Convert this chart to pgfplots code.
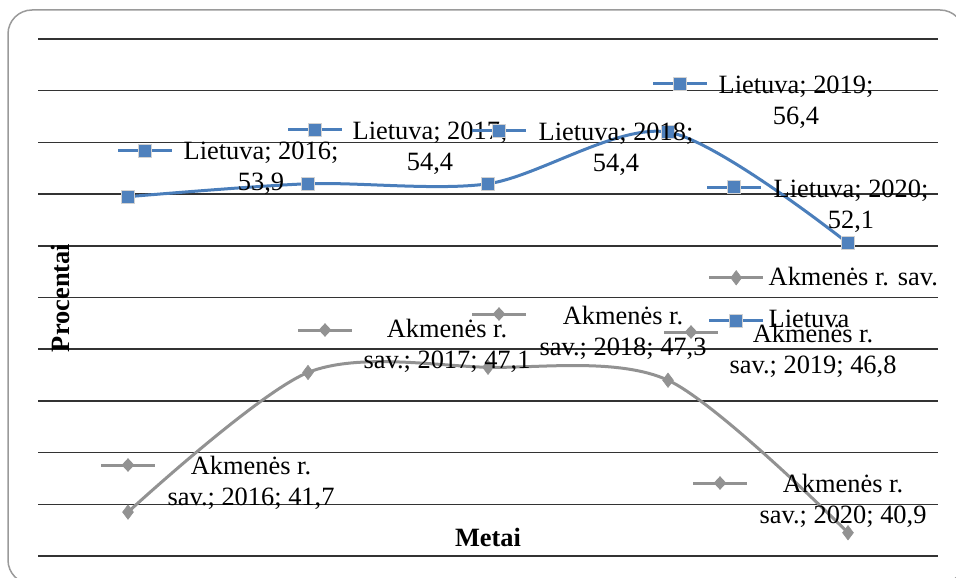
\documentclass[border=0pt]{standalone}
\usepackage{fontspec}
\setmainfont{Liberation Serif}
\usepackage{pgfplots}
\pgfplotsset{compat=1.18}
\usetikzlibrary{shapes.geometric}
\definecolor{lcol}{HTML}{4A7EBB}
\definecolor{lmark}{HTML}{4F81BD}
\definecolor{acol}{HTML}{929292}
\definecolor{frame}{HTML}{9A9A9A}
% small series keys used inside the data labels
\newsavebox\keyL
\newsavebox\keyA
\sbox\keyL{\tikz{\draw[lcol, line width=1.5pt] (0,0) -- (27pt,0);
  \node[draw=gray!35, fill=lmark, line width=0.5pt, minimum size=6.5pt, inner sep=0] at (13.5pt,0) {};}}
\sbox\keyA{\tikz{\draw[acol, line width=1.5pt] (0,0) -- (27pt,0);
  \node[fill=acol, diamond, minimum width=6.5pt, minimum height=7pt, inner sep=0] at (13.5pt,0) {};}}

\begin{document}
\begin{tikzpicture}[x=0.5pt, y=-0.5pt, font=\fontsize{13.2}{15.5}\selectfont]
\useasboundingbox (0,0) rectangle (956,577);
\draw[frame, line width=0.75pt, rounded corners=12pt] (8,10) rectangle (964,584);

\begin{axis}[
  at={(19pt,-278pt)}, anchor=south west,
  scale only axis, width=450pt, height=258.5pt,
  xmin=2015.5, xmax=2020.5, ymin=40, ymax=60,
  xtick=\empty, ytick={40,42,...,60}, yticklabels={},
  major tick length=0pt,
  axis line style={draw=none},
  ymajorgrids, grid style={black!80, line width=0.75pt},
  clip=false,
  reverse legend,
  legend cell align=left,
  legend style={at={(0.737,0.575)}, anchor=north west, draw=none, fill=none,
    font=\fontsize{13.2}{15.5}\selectfont, row sep=7pt},
  legend image code/.code={\draw[mark repeat=2, mark phase=2, #1]
    plot coordinates {(0pt,0pt) (13.5pt,0pt) (27pt,0pt)};},
]
\addplot[lcol, line width=1.5pt, smooth, tension=0.5,
  mark=square*, mark size=3.25pt,
  mark options={fill=lmark, draw=gray!35, line width=0.5pt}]
  coordinates {(2016,53.9) (2017,54.4) (2018,54.4) (2019,56.4) (2020,52.1)};
\addlegendentry{Lietuva}
\addplot[acol, line width=1.5pt, smooth, tension=0.5,
  mark=diamond*, mark size=3.6pt,
  mark options={fill=acol, draw=acol, line width=0.3pt}]
  coordinates {(2016,41.7) (2017,47.1) (2018,47.3) (2019,46.8) (2020,40.9)};
\addlegendentry{Akmenės r. sav.}
\end{axis}

% data labels
\begin{scope}[every node/.style={align=center, inner sep=0pt}]
\node at (261,168) {Lietuva; 2016;\\53,9};
\node at (430,148) {Lietuva; 2017;\\54,4};
\node at (616,149) {Lietuva; 2018;\\54,4};
\node at (796,102) {Lietuva; 2019;\\56,4};
\node at (851,206) {Lietuva; 2020;\\52,1};
\node at (145,151) {\usebox\keyL};
\node at (315,130) {\usebox\keyL};
\node at (499,131) {\usebox\keyL};
\node at (680,84) {\usebox\keyL};
\node at (734,187) {\usebox\keyL};

\node at (251,483) {Akmenės r.\\sav.; 2016; 41,7};
\node at (447,346) {Akmenės r.\\sav.; 2017; 47,1};
\node at (623,333) {Akmenės r.\\sav.; 2018; 47,3};
\node at (813,351) {Akmenės r.\\sav.; 2019; 46,8};
\node at (843,501) {Akmenės r.\\sav.; 2020; 40,9};
\node at (128,465) {\usebox\keyA};
\node at (325,330) {\usebox\keyA};
\node at (499,314) {\usebox\keyA};
\node at (691,332) {\usebox\keyA};
\node at (720,483) {\usebox\keyA};
\end{scope}

\node[rotate=90, font=\fontsize{13.2}{15.5}\selectfont\bfseries] at (60,298) {Procentai};
\node[font=\fontsize{13.2}{15.5}\selectfont\bfseries] at (488,537) {Metai};
\end{tikzpicture}
\end{document}
